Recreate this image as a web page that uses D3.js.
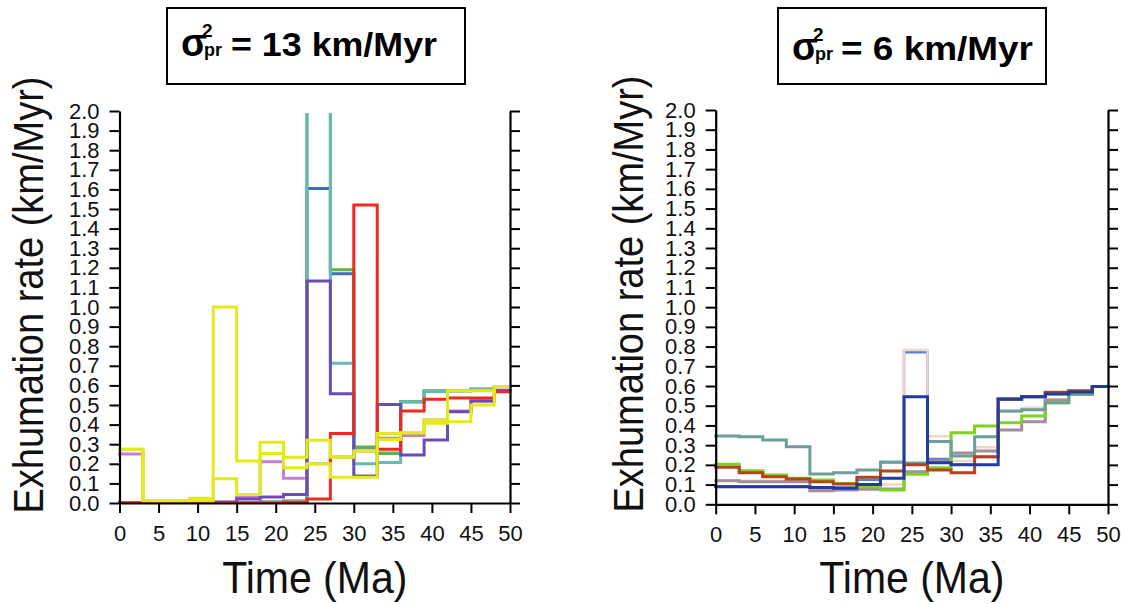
<!DOCTYPE html>
<html>
<head>
<meta charset="utf-8">
<script src="https://cdn.jsdelivr.net/npm/d3@7"></script>
<style>
  html, body { margin: 0; padding: 0; background: #fff; }
  svg { display: block; }
  text { font-family: "Liberation Sans", Arial, Helvetica, sans-serif; }
</style>
</head>
<body>
<svg id="chart" width="1125" height="604"></svg>
<script>
// ---------- DATA ----------
const binEdges = [0, 3, 6, 9, 12, 15, 18, 21, 24, 27, 30, 33, 36, 39, 42, 45, 48, 50];
const xTicks = [0, 5, 10, 15, 20, 25, 30, 35, 40, 45, 50];
const yTicks = [0.0, 0.1, 0.2, 0.3, 0.4, 0.5, 0.6, 0.7, 0.8, 0.9, 1.0, 1.1, 1.2, 1.3, 1.4, 1.5, 1.6, 1.7, 1.8, 1.9, 2.0];
const xTitle = "Time (Ma)";
const yTitle = "Exhumation rate (km/Myr)";
const leftTitleValue = "= 13 km/Myr";
const rightTitleValue = "= 6 km/Myr";

// Left panel (sigma_pr^2 = 13 km/Myr)
const leftBlue    = [0.000, 0.000, 0.000, 0.000, 0.000, 0.000, 0.004, 0.008, 1.604, 1.170, 0.284, 0.254, 0.517, 0.571, 0.573, 0.580, 0.594];
const leftGreen   = [0.000, 0.000, 0.000, 0.000, 0.000, 0.000, 0.004, 0.008, 2.300, 1.190, 0.284, 0.254, 0.517, 0.571, 0.573, 0.580, 0.594];
const leftCyan    = [0.000, 0.000, 0.000, 0.000, 0.000, 0.000, 0.006, 0.012, 2.300, 0.713, 0.200, 0.207, 0.517, 0.571, 0.573, 0.580, 0.594];
const leftPink    = [0.250, 0.000, 0.000, 0.000, 0.004, 0.028, 0.211, 0.126, 0.200, 0.235, 0.265, 0.330, 0.345, 0.423, 0.470, 0.520, 0.570];
const leftPurple  = [0.000, 0.000, 0.000, 0.000, 0.005, 0.020, 0.030, 0.044, 1.133, 0.558, 0.138, 0.503, 0.245, 0.321, 0.466, 0.520, 0.575];
const leftRed     = [0.000, 0.000, 0.000, 0.000, 0.000, 0.000, 0.000, 0.004, 0.020, 0.355, 1.520, 0.274, 0.469, 0.529, 0.536, 0.536, 0.568];
const leftYellow2 = [0.274, 0.012, 0.012, 0.012, 0.124, 0.044, 0.253, 0.180, 0.200, 0.131, 0.131, 0.324, 0.359, 0.407, 0.415, 0.500, 0.594];
const leftYellow1 = [0.274, 0.012, 0.012, 0.024, 1.000, 0.214, 0.310, 0.233, 0.320, 0.233, 0.265, 0.355, 0.359, 0.423, 0.573, 0.573, 0.594];

// Right panel (sigma_pr^2 = 6 km/Myr)
const rightLightBlue = [0.090, 0.090, 0.090, 0.090, 0.085, 0.085, 0.125, 0.215, 0.771, 0.230, 0.200, 0.240, 0.530, 0.546, 0.560, 0.570, 0.597];
const rightPeach     = [0.120, 0.120, 0.120, 0.120, 0.075, 0.075, 0.080, 0.100, 0.783, 0.345, 0.220, 0.290, 0.470, 0.490, 0.530, 0.560, 0.597];
const rightMauve     = [0.119, 0.115, 0.115, 0.115, 0.069, 0.072, 0.076, 0.078, 0.165, 0.220, 0.260, 0.270, 0.377, 0.419, 0.529, 0.558, 0.597];
const rightLime      = [0.203, 0.170, 0.148, 0.132, 0.123, 0.106, 0.089, 0.072, 0.152, 0.186, 0.363, 0.397, 0.414, 0.448, 0.515, 0.558, 0.597];
const rightTeal      = [0.346, 0.343, 0.326, 0.292, 0.154, 0.160, 0.174, 0.213, 0.210, 0.318, 0.245, 0.343, 0.473, 0.480, 0.515, 0.558, 0.597];
const rightBrown     = [0.188, 0.160, 0.140, 0.128, 0.115, 0.103, 0.137, 0.169, 0.200, 0.174, 0.160, 0.241, 0.534, 0.546, 0.568, 0.576, 0.597];
const rightDarkBlue  = [0.089, 0.089, 0.089, 0.089, 0.085, 0.081, 0.100, 0.132, 0.546, 0.211, 0.200, 0.200, 0.534, 0.546, 0.560, 0.570, 0.597];

// ---------- CHART ----------
const svg = d3.select("#chart");

const panels = [
  {
    id: "L", left: 119.5, right: 510, bottom: 503, top: 111,
    box: [167, 8, 298, 76], sigmaX: 181, base: 56, valueText: leftTitleValue, valueX: 231, valueW: 206,
    yTitleX: 43, yTitleY: 295,
    series: [
      { v: leftBlue, c: "#3f6fb5", w: 3 },
      { v: leftGreen, c: "#5db543", w: 3 },
      { v: leftCyan, c: "#68b9b0", w: 3 },
      { v: leftPink, c: "#c77fd4", w: 3 },
      { v: leftPurple, c: "#6a4cb8", w: 3 },
      { v: leftRed, c: "#ec2a1e", w: 3 },
      { v: leftYellow2, c: "#e4ea18", w: 3 },
      { v: leftYellow1, c: "#e4ea18", w: 3 }
    ]
  },
  {
    id: "R", left: 715.7, right: 1108, bottom: 504.3, top: 110,
    box: [778, 8, 268, 76], sigmaX: 792, base: 60, valueText: rightTitleValue, valueX: 841, valueW: 192,
    yTitleX: 643, yTitleY: 294,
    series: [
      { v: rightLightBlue, c: "#5b7fdc", w: 2.5 },
      { v: rightPeach, c: "#efd6c6", w: 2.5 },
      { v: rightMauve, c: "#a68b9c", w: 3 },
      { v: rightLime, c: "#7fd21f", w: 3 },
      { v: rightTeal, c: "#6b9f98", w: 3 },
      { v: rightBrown, c: "#b2431f", w: 3 },
      { v: rightDarkBlue, c: "#1f3d99", w: 3 }
    ]
  }
];

panels.forEach(p => {
  const x = d3.scaleLinear().domain([0, 50]).range([p.left, p.right]);
  const y = d3.scaleLinear().domain([0, 2]).range([p.bottom, p.top]);

  // clip (top at 2.0, bottom at 0 so zero-level lines hide under the axis)
  svg.append("clipPath").attr("id", "clip" + p.id)
    .append("rect")
    .attr("x", p.left - 2).attr("y", p.top + 2)
    .attr("width", p.right - p.left + 4).attr("height", p.bottom - p.top - 2);

  const line = d3.line()
    .x(d => x(d[0]))
    .y(d => y(d[1]))
    .curve(d3.curveStepAfter);

  const g = svg.append("g").attr("clip-path", `url(#clip${p.id})`);
  p.series.forEach(s => {
    const pts = s.v.map((val, i) => [binEdges[i], val]);
    pts.push([binEdges[binEdges.length - 1], s.v[s.v.length - 1]]);
    g.append("path")
      .datum(pts)
      .attr("d", line)
      .attr("fill", "none")
      .attr("stroke", s.c)
      .attr("stroke-width", s.w)
      .attr("stroke-linejoin", "miter")
      .attr("stroke-linecap", "square");
  });

  // axes
  const yAxisL = d3.axisLeft(y).tickValues(yTicks).tickFormat(d3.format(".1f"))
    .tickSize(10).tickPadding(10).tickSizeOuter(0);
  const yAxisR = d3.axisRight(y).tickValues(yTicks).tickFormat("")
    .tickSize(10).tickSizeOuter(0);
  const xAxis = d3.axisBottom(x).tickValues(xTicks).tickFormat(d3.format("d"))
    .tickSize(10).tickPadding(12).tickSizeOuter(0);

  const styleAxis = sel => {
    sel.selectAll("path.domain").attr("stroke", "#000").attr("stroke-width", 2.2);
    sel.selectAll(".tick line").attr("stroke", "#000").attr("stroke-width", 2);
    sel.selectAll(".tick text").attr("fill", "#111");
  };

  svg.append("g").attr("transform", `translate(${p.left},0)`).call(yAxisL)
    .call(styleAxis).call(s => s.selectAll(".tick text").attr("font-size", 22));
  svg.append("g").attr("transform", `translate(${p.right},0)`).call(yAxisR)
    .call(styleAxis);
  svg.append("g").attr("transform", `translate(0,${p.bottom})`).call(xAxis)
    .call(styleAxis).call(s => s.selectAll(".tick text").attr("font-size", 22));

  // axis titles
  svg.append("text")
    .attr("transform", `translate(${p.yTitleX},${p.yTitleY}) rotate(-90) scale(1,1.1)`)
    .attr("text-anchor", "middle")
    .attr("font-size", 38)
    .attr("fill", "#111")
    .text(yTitle);

  svg.append("text")
    .attr("transform", `translate(${(p.left + p.right) / 2},593) scale(1,1.08)`)
    .attr("text-anchor", "middle")
    .attr("font-size", 41)
    .attr("fill", "#111")
    .text(xTitle);

  // title box
  svg.append("rect")
    .attr("x", p.box[0]).attr("y", p.box[1])
    .attr("width", p.box[2]).attr("height", p.box[3])
    .attr("fill", "#fff").attr("stroke", "#000").attr("stroke-width", 2);

  svg.append("text")
    .attr("x", p.sigmaX).attr("y", p.base)
    .attr("font-size", 38).attr("font-weight", "bold").attr("fill", "#000")
    .text("σ");
  svg.append("text")
    .attr("x", p.sigmaX + 21).attr("y", p.base - 19)
    .attr("font-size", 19).attr("font-weight", "bold").attr("fill", "#000")
    .text("2");
  svg.append("text")
    .attr("x", p.sigmaX + 23).attr("y", p.base)
    .attr("font-size", 18).attr("font-weight", "bold").attr("fill", "#000")
    .text("pr");
  svg.append("text")
    .attr("x", p.valueX).attr("y", p.base)
    .attr("font-size", 34).attr("font-weight", "bold").attr("fill", "#000")
    .attr("textLength", p.valueW).attr("lengthAdjust", "spacingAndGlyphs")
    .text(p.valueText);
});
</script>
</body>
</html>
